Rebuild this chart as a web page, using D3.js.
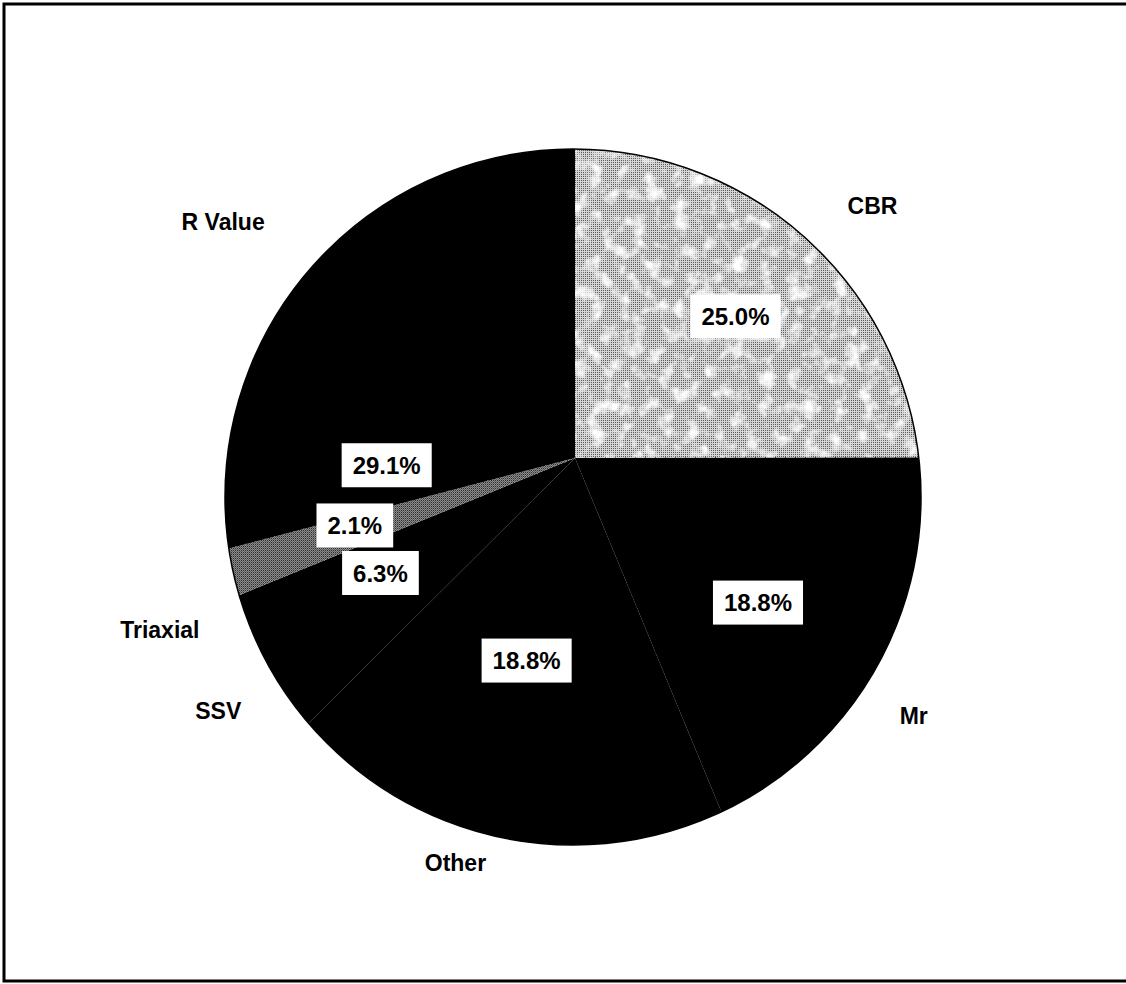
<!DOCTYPE html>
<html>
<head>
<meta charset="utf-8">
<script src="https://cdn.jsdelivr.net/npm/d3@7"></script>
<style>
  html, body { margin: 0; padding: 0; background: #fff; }
  svg { display: block; }
  text { font-family: "Liberation Sans", Arial, Helvetica, sans-serif; font-weight: bold; fill: #000; }
</style>
</head>
<body>
<svg id="chart" width="1126" height="984"></svg>
<script>
// Test methods used, share of responses (%)
const categories = ["CBR", "Mr", "Other", "SSV", "Triaxial", "R Value"];
const shares = [25.0, 18.8, 18.8, 6.3, 2.1, 29.1];
const shareLabels = ["25.0%", "18.8%", "18.8%", "6.3%", "2.1%", "29.1%"];

// Slice fills
const sliceFill = {
  "CBR": "url(#stippleLight)",
  "Mr": "#000",
  "Other": "#000",
  "SSV": "#000",
  "Triaxial": "url(#stippleDark)",
  "R Value": "#000"
};

// Label placement: [angle tweak in degrees, distance from the disc centre]
const nameLayout = {
  "CBR": [0.8, 418], "Mr": [-1, 405], "Other": [6.5, 384],
  "SSV": [2.5, 414], "Triaxial": [0.6, 434], "R Value": [0.5, 445]
};
const valueLayout = {
  "CBR": [-3, 243], "Mr": [-4, 213], "Other": [4.5, 170],
  "SSV": [12, 207], "Triaxial": [11, 220], "R Value": [-28, 189]
};

const W = 1126, H = 984;
const disc = { cx: 573, cy: 497, r: 348 };   // outline of the pie
const hub = { x: 575, y: 458 };               // point the wedges radiate from

const svg = d3.select("#chart");
const defs = svg.append("defs");

// light stipple for CBR
const pl = defs.append("pattern").attr("id", "stippleLight")
  .attr("patternUnits", "userSpaceOnUse").attr("width", 2).attr("height", 2);
pl.append("rect").attr("width", 2).attr("height", 2).attr("fill", "#d4d4d4");
pl.append("rect").attr("width", 1).attr("height", 1).attr("fill", "#5a5a5a");

// darker stipple for Triaxial
const pd = defs.append("pattern").attr("id", "stippleDark")
  .attr("patternUnits", "userSpaceOnUse").attr("width", 2).attr("height", 2);
pd.append("rect").attr("width", 2).attr("height", 2).attr("fill", "#8c8c8c");
pd.append("rect").attr("width", 1).attr("height", 1).attr("fill", "#2e2e2e");
pd.append("rect").attr("x", 1).attr("y", 1).attr("width", 1).attr("height", 1).attr("fill", "#5e5e5e");

// fine mottled highlights over the light stipple
const f = defs.append("filter").attr("id", "mottle")
  .attr("x", 0).attr("y", 0).attr("width", 1).attr("height", 1);
f.append("feTurbulence").attr("type", "fractalNoise").attr("baseFrequency", 0.07)
  .attr("numOctaves", 3).attr("seed", 11).attr("result", "noise");
f.append("feColorMatrix").attr("in", "noise").attr("type", "matrix")
  .attr("values", "0 0 0 0 1  0 0 0 0 1  0 0 0 0 1  0 0 0 -3.0 1.55").attr("result", "white");
f.append("feComposite").attr("in", "white").attr("in2", "SourceGraphic").attr("operator", "atop");

defs.append("clipPath").attr("id", "discClip")
  .append("circle").attr("cx", disc.cx).attr("cy", disc.cy).attr("r", disc.r);

// outer frame
svg.append("rect")
  .attr("x", 4).attr("y", 4).attr("width", W + 20).attr("height", 977)
  .attr("fill", "none").attr("stroke", "#000").attr("stroke-width", 3);

const data = categories.map((c, i) => ({ name: c, value: shares[i], label: shareLabels[i] }));
const pie = d3.pie().sort(null).value(d => d.value);
const arcs = pie(data);

const wedge = d3.arc().innerRadius(0).outerRadius(disc.r * 2);

const clipped = svg.append("g").attr("clip-path", "url(#discClip)");
const slices = clipped.append("g").attr("transform", `translate(${hub.x},${hub.y})`);

slices.selectAll("path.slice")
  .data(arcs)
  .join("path")
  .attr("class", "slice")
  .attr("d", wedge)
  .attr("fill", d => sliceFill[d.data.name])
  .attr("filter", d => d.data.name === "CBR" ? "url(#mottle)" : null);

// sparse dotted separators between the dark slices
slices.selectAll("line.sep")
  .data(arcs.slice(1))
  .join("line")
  .attr("class", "sep")
  .attr("x1", 0).attr("y1", 0)
  .attr("x2", d => Math.sin(d.startAngle) * disc.r * 1.2)
  .attr("y2", d => -Math.cos(d.startAngle) * disc.r * 1.2)
  .attr("stroke", d => (d.data.name === "Triaxial" || d.data.name === "R Value") ? "#8a8a8a" : "#1e1e1e")
  .attr("stroke-width", 1)
  .attr("stroke-dasharray", "1,9");

// disc outline
svg.append("circle")
  .attr("cx", disc.cx).attr("cy", disc.cy).attr("r", disc.r)
  .attr("fill", "none").attr("stroke", "#000").attr("stroke-width", 1.5);

function polar(angle, dist) {
  return [disc.cx + Math.sin(angle) * dist, disc.cy - Math.cos(angle) * dist];
}
const mid = d => (d.startAngle + d.endAngle) / 2;
const deg = Math.PI / 180;

// value labels in white boxes
const valG = svg.append("g");
arcs.forEach(d => {
  const [tw, dist] = valueLayout[d.data.name];
  const [x, y] = polar(mid(d) + tw * deg, dist);
  const g = valG.append("g").attr("transform", `translate(${x},${y})`);
  const t = g.append("text")
    .attr("text-anchor", "middle").attr("dy", "0.36em")
    .style("font-size", "24px").text(d.data.label);
  const bb = t.node().getBBox();
  g.insert("rect", "text")
    .attr("x", bb.x - 11).attr("y", -22)
    .attr("width", bb.width + 22).attr("height", 44)
    .attr("fill", "#fff");
});

// category names around the pie
svg.append("g").selectAll("text.name")
  .data(arcs)
  .join("text")
  .attr("class", "name")
  .attr("text-anchor", "middle").attr("dy", "0.36em")
  .style("font-size", "23px")
  .attr("transform", d => {
    const [tw, dist] = nameLayout[d.data.name];
    const [x, y] = polar(mid(d) + tw * deg, dist);
    return `translate(${x},${y})`;
  })
  .text(d => d.data.name);
</script>
</body>
</html>
